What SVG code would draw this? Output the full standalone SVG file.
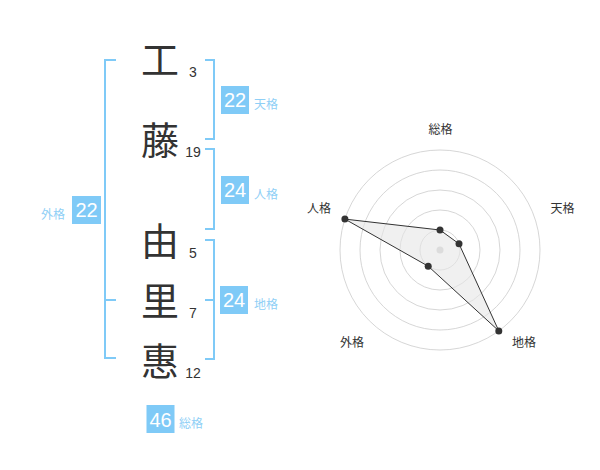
<svg xmlns="http://www.w3.org/2000/svg" width="600" height="470" viewBox="0 0 600 470">
<style>
.kanji{font-family:"Noto Sans CJK JP","Noto Sans CJK SC",sans-serif;font-size:38px;fill:#333;text-anchor:middle}
.num{font-family:"Liberation Sans",Arial,sans-serif;font-size:14px;fill:#333;text-anchor:middle}
.box{fill:#7fcaf7}
.boxnum{font-family:"Liberation Sans",Arial,sans-serif;font-size:20px;fill:#fff;text-anchor:middle}
.lbl{font-family:"Noto Sans CJK JP","Noto Sans CJK SC",sans-serif;font-size:12px;fill:#8fcff6}
.br{fill:none;stroke:#7fcaf7;stroke-width:2}
.ring{fill:none;stroke:#cccccc;stroke-width:0.8}
.axl{font-family:"Noto Sans CJK JP","Noto Sans CJK SC",sans-serif;font-size:12px;fill:#333;text-anchor:middle}
.dot{fill:#333}
</style>
<rect width="600" height="470" fill="#fff"/>

<g id="chars">
<g id="c1"><text class="kanji" x="160" y="74">工</text><text class="num" x="193" y="77">3</text></g>
<g id="c2"><text class="kanji" x="160" y="154">藤</text><text class="num" x="193" y="157">19</text></g>
<g id="c3"><text class="kanji" x="160" y="254.5">由</text><text class="num" x="193" y="257.5">5</text></g>
<g id="c4"><text class="kanji" x="160" y="314.5">里</text><text class="num" x="193" y="317.5">7</text></g>
<g id="c5"><text class="kanji" x="160" y="374.5">惠</text><text class="num" x="193" y="377.5">12</text></g>
</g>

<g id="connectors">
<path class="br" d="M116,60 H105 V358 H116 M105,300 H116"/>
<path class="br" d="M205,60 H214 V139 H205"/>
<path class="br" d="M205,149 H214 V229 H205"/>
<path class="br" d="M205,240 H214 V359 H205 M205,300 H214"/>
</g>

<g id="tenkaku"><rect class="box" x="221" y="86" width="28" height="28"/><text class="boxnum" x="235" y="107">22</text><text class="lbl" x="254" y="108.5">天格</text></g>
<g id="jinkaku"><rect class="box" x="221" y="176" width="28" height="28"/><text class="boxnum" x="235" y="197">24</text><text class="lbl" x="254" y="198.5">人格</text></g>
<g id="chikaku"><rect class="box" x="220" y="286" width="28" height="28"/><text class="boxnum" x="234" y="307">24</text><text class="lbl" x="254" y="308.5">地格</text></g>
<g id="gaikaku"><rect class="box" x="72" y="196" width="29" height="28"/><text class="boxnum" x="86.5" y="217">22</text><text class="lbl" x="41" y="218.5">外格</text></g>
<g id="sokaku"><rect class="box" x="146.5" y="405" width="28" height="28"/><text class="boxnum" x="160.5" y="426.5">46</text><text class="lbl" x="179" y="428">総格</text></g>

<g id="radar">
<circle class="ring" cx="440" cy="250" r="20"/>
<circle class="ring" cx="440" cy="250" r="40"/>
<circle class="ring" cx="440" cy="250" r="60"/>
<circle class="ring" cx="440" cy="250" r="80"/>
<circle class="ring" cx="440" cy="250" r="100"/>
<circle cx="440" cy="250" r="3.5" fill="#cccccc"/>
<polygon points="440,230 459,243.8 498.8,330.9 428.2,266.2 344.9,219.1" fill="#e6e6e6" fill-opacity="0.6" stroke="#333" stroke-width="1"/>
<circle class="dot" cx="440" cy="230" r="3.5"/>
<circle class="dot" cx="459" cy="243.8" r="3.5"/>
<circle class="dot" cx="498.8" cy="330.9" r="3.5"/>
<circle class="dot" cx="428.2" cy="266.2" r="3.5"/>
<circle class="dot" cx="344.9" cy="219.1" r="3.5"/>
<text class="axl" x="440.5" y="134">総格</text>
<text class="axl" x="562.5" y="213">天格</text>
<text class="axl" x="319" y="213">人格</text>
<text class="axl" x="352" y="346.5">外格</text>
<text class="axl" x="524" y="346.5">地格</text>
</g>
</svg>
